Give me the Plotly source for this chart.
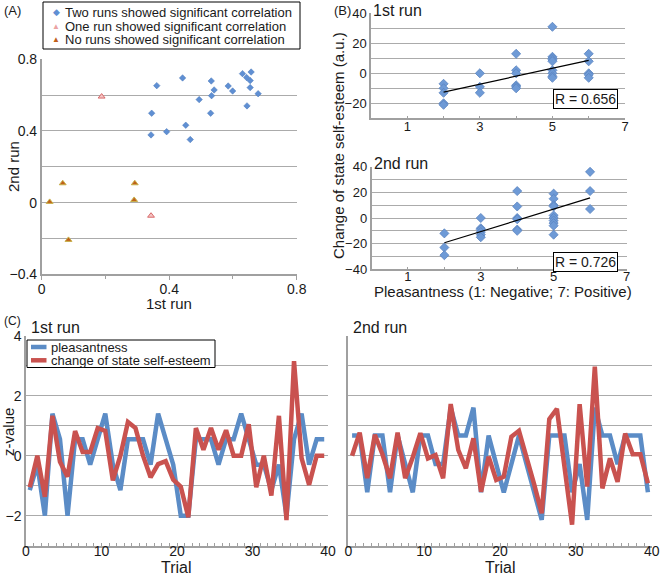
import numpy as np
import plotly.graph_objects as go

# ---------------- Panel A data ----------------
a_two_x = [0.361, 0.345, 0.343, 0.392, 0.442, 0.452, 0.466, 0.494, 0.532, 0.541, 0.533,
           0.530, 0.585, 0.599, 0.630, 0.643, 0.657, 0.654, 0.654, 0.644, 0.679]
a_two_y = [0.653, 0.499, 0.378, 0.396, 0.696, 0.432, 0.352, 0.575, 0.679, 0.629, 0.597,
           0.499, 0.651, 0.623, 0.720, 0.698, 0.729, 0.681, 0.642, 0.540, 0.608]
a_one_x = [0.188, 0.343]
a_one_y = [0.592, -0.073]
a_none_x = [0.025, 0.066, 0.084, 0.292, 0.290]
a_none_y = [0.004, 0.108, -0.208, 0.108, 0.015]
a_legend = ["Two runs showed significant correlation",
            "One run showed significant correlation",
            "No runs showed significant correlation"]

# ---------------- Panel B data ----------------
b1_x = [2, 2, 2, 2, 2, 3, 3, 3, 4, 4, 4, 4, 4, 4,
        5, 5, 5, 5, 5, 5, 5, 5, 5, 6, 6, 6, 6, 6]
b1_y = [-7, -10, -13, -20, -21, 0, -9, -13, 13, 2, 0, -8, -9, -10,
        31, 11, 10, 9, 8, 2, 0, -2, -3, 13, 8, 0, -1, -3]
b2_x = [2, 2, 2, 3, 3, 3, 3, 3, 3, 4, 4, 4, 4, 4, 4,
        5, 5, 5, 5, 5, 5, 5, 5, 5, 5, 6, 6, 6]
b2_y = [-12, -23, -29, 0, -8, -9, -11, -13, -15, 21, 9, 0, -1, -9, -10,
        19, 15, 10, 9, 2, 0, -2, -4, -6, -13, 36, 21, 7]
b1_r = "R = 0.656"
b2_r = "R = 0.726"

# ---------------- Panel C data ----------------
trials = list(range(1, 41))
c1_pleas = [-1.15, -0.3, -2.0, 1.4, 0.55, -2.0, 0.55, 0.55, -0.3, 0.55,
            1.4, -0.3, -1.15, 0.55, 0.55, 0.55, -0.3, 1.4, 0.55, -0.3,
            -2.0, -2.0, 0.55, 0.55, 0.55, -0.3, 0.55, 0.55, 1.4, 0.55,
            -0.3, -0.3, -1.15, -0.3, -2.0, 0.55, 1.4, -0.3, 0.55, 0.55]
c1_esteem = [-1.05, 0.0, -1.37, 1.33, -0.2, -0.7, 0.82, 0.12, 0.12, 0.92,
             0.83, -0.82, 0.0, 1.12, 0.92, 0.0, -0.72, -0.28, -0.18, -0.8,
             -1.03, -2.05, 0.92, 0.2, 0.92, 0.2, 0.85, 0.0, 0.0, 1.05,
             -1.05, 0.0, -1.33, 1.33, -2.15, 3.15, -0.08, -0.97, 0.0, 0.0]
c2_pleas = [0.67, 0.67, -1.22, 0.67, 0.67, -1.22, 0.67, -0.28, -1.22, 0.67,
            0.67, -0.28, -0.28, 1.6, 0.67, 0.67, 1.6, -1.22, 0.67, -0.28,
            -1.22, -0.28, 0.67, -0.28, -1.22, -2.14, 0.67, 0.67, 0.67, -1.22,
            -0.28, -2.14, 1.6, 0.67, 0.67, -0.28, 0.67, 0.67, 0.67, -1.22]
c2_esteem = [0.0, 0.77, -0.75, 0.7, 0.05, -0.75, 0.77, -0.75, -0.05, 0.75,
             -0.09, 0.02, -0.75, 1.72, 0.19, -0.42, 0.58, -1.2, -0.03, -0.81,
             -0.7, 0.63, 0.83, 0.0, -0.95, -1.92, 1.22, 1.56, -0.3, -2.3,
             1.72, -1.03, 2.97, -1.09, -0.09, -0.87, 0.74, 0.05, 0.05, -0.92]
c_legend = ["pleasantness", "change of state self-esteem"]

FONT = "Liberation Sans, Arial, sans-serif"
TXT = "#1a1a1a"
GRID = "#ABABAB"
AXIS = "#A0A0A0"
BLUE_MK = "#5F8FD3"
BLUE_LN = "#5B8CC6"
RED_LN = "#C9524F"
PINK_F, PINK_L = "#F5C4C4", "#D86A6A"
BROWN_F, BROWN_L = "#C0601A", "#C8B04A"

W, H = 660, 575
def px(x):
    return x / W
def py(y):
    return 1 - y / H

fig = go.Figure()

# Panel A
fig.add_trace(go.Scatter(x=a_two_x, y=a_two_y, mode="markers", xaxis="x", yaxis="y",
                         name=a_legend[0], showlegend=False,
                         marker=dict(symbol="diamond", size=5, color=BLUE_MK,
                                     line=dict(width=0.5, color="#4A78B8"))))
fig.add_trace(go.Scatter(x=a_one_x, y=a_one_y, mode="markers", xaxis="x", yaxis="y",
                         name=a_legend[1], showlegend=False,
                         marker=dict(symbol="triangle-up", size=6, color=PINK_F,
                                     line=dict(width=1, color=PINK_L))))
fig.add_trace(go.Scatter(x=a_none_x, y=a_none_y, mode="markers", xaxis="x", yaxis="y",
                         name=a_legend[2], showlegend=False,
                         marker=dict(symbol="triangle-up", size=6, color=BROWN_F,
                                     line=dict(width=1, color=BROWN_L))))

# Panel B
def add_b(xs, ys, xa, ya):
    fig.add_trace(go.Scatter(x=xs, y=ys, mode="markers", xaxis=xa, yaxis=ya, showlegend=False,
                             marker=dict(symbol="diamond", size=7, color="#6E9AD6",
                                         line=dict(width=0.8, color="#5A84C0"))))
    k, b = np.polyfit(xs, ys, 1)
    lx = [min(xs), max(xs)]
    fig.add_trace(go.Scatter(x=lx, y=[k * v + b for v in lx], mode="lines", xaxis=xa, yaxis=ya,
                             showlegend=False, line=dict(color="black", width=1.2)))

add_b(b1_x, b1_y, "x2", "y2")
add_b(b2_x, b2_y, "x3", "y3")

# Panel C
cx = [t - 0.5 for t in trials]
for xa, ya, pl, es in (("x4", "y4", c1_pleas, c1_esteem), ("x5", "y5", c2_pleas, c2_esteem)):
    fig.add_trace(go.Scatter(x=cx, y=pl, mode="lines", xaxis=xa, yaxis=ya, showlegend=False,
                             name=c_legend[0], line=dict(color=BLUE_LN, width=4.5)))
    fig.add_trace(go.Scatter(x=cx, y=es, mode="lines", xaxis=xa, yaxis=ya, showlegend=False,
                             name=c_legend[1], line=dict(color=RED_LN, width=4.5)))


def xax(domain, rng, dtick, tick0, minor, anchor, size, ticks="inside", ticklen=3, standoff=0):
    return dict(domain=domain, range=rng, dtick=dtick, tick0=tick0, anchor=anchor,
                automargin=False, showgrid=False, zeroline=False, showline=True,
                linecolor=AXIS, linewidth=1.5,
                ticks=ticks, ticklen=ticklen, tickcolor=AXIS, tickwidth=1,
                ticklabelstandoff=standoff, ticklabeloverflow="allow",
                minor=dict(dtick=minor, tick0=tick0, ticks=ticks, ticklen=3, tickcolor=AXIS),
                tickfont=dict(size=size, color=TXT), fixedrange=True)


def yax(domain, rng, dtick, minor, anchor, size, labels=True):
    return dict(domain=domain, range=rng, dtick=dtick, tick0=0, anchor=anchor,
                automargin=False, showgrid=True, gridcolor=GRID, gridwidth=1.4, zeroline=False,
                showline=True, linecolor=AXIS, linewidth=1.5, ticks="",
                ticklabeloverflow="allow",
                minor=dict(dtick=minor, tick0=0, showgrid=True, gridcolor=GRID, gridwidth=1.4),
                showticklabels=labels, tickfont=dict(size=size, color=TXT), fixedrange=True)


A_xd = [px(41.7), px(296.7)]
A_yd = [py(274.3), py(59.3)]
B1_xd = [px(371), px(625)]
B1_yd = [py(118.3), py(13.3)]
B2_xd = [px(371.5), px(626.5)]
B2_yd = [py(269.3), py(166.7)]
C1_xd = [px(26), px(328)]
C2_xd = [px(348.3), px(651.7)]
C_yd = [py(545.7), py(335.7)]

annotations = []
def ann(text, x, y, size, xanchor="left", yanchor="top", angle=0, color=TXT, **kw):
    annotations.append(dict(text=text, x=px(x), y=py(y), xref="paper", yref="paper",
                            xanchor=xanchor, yanchor=yanchor, showarrow=False, textangle=angle,
                            font=dict(size=size, color=color, family=FONT), **kw))

shapes = []
def rect(x0, y0, x1, y1):
    shapes.append(dict(type="rect", xref="paper", yref="paper", x0=px(x0), x1=px(x1),
                       y0=py(y1), y1=py(y0), fillcolor="white",
                       line=dict(color="black", width=1), layer="above"))

# Panel A legend (compact, like the original)
rect(43, 2, 300, 49)
ann("\u25c6", 56, 12.5, 9, xanchor="center", yanchor="middle", color=BLUE_MK)
ann("\u25b2", 56, 26, 8, xanchor="center", yanchor="middle", color="#EBA3A3")
ann("\u25b2", 56, 39.5, 8, xanchor="center", yanchor="middle", color=BROWN_F)
for i, t in enumerate(a_legend):
    ann(t, 63, 12.5 + 13.5 * i, 13, yanchor="middle")

# Panel C legend
rect(27, 340, 215, 367.5)
for i, (t, c) in enumerate(zip(c_legend, (BLUE_LN, RED_LN))):
    yy = 347 + 13.3 * i
    shapes.append(dict(type="line", xref="paper", yref="paper", x0=px(31), x1=px(46.5),
                       y0=py(yy), y1=py(yy), line=dict(color=c, width=4.5), layer="above"))
    ann(t, 49, yy, 13, yanchor="middle")

ann("(A)", 2, 1, 13)
ann("(B)", 332, 1, 13)
ann("(C)", 2, 312, 12)
ann("1st run", 371, 0, 16)
ann("2nd run", 372, 153, 16)
ann("1st run", 29, 317, 16)
ann("2nd run", 351, 317, 16)
ann("2nd run", 13, 166, 15, xanchor="center", yanchor="middle", angle=-90)
ann("1st run", 169, 303, 15, xanchor="center", yanchor="middle")
ann("Change of state self-esteem (a.u.)", 339, 146, 15, xanchor="center", yanchor="middle", angle=-90)
ann("Pleasantness (1: Negative; 7: Positive)", 503, 291, 15, xanchor="center", yanchor="middle")
ann("z-value", 9, 432, 15, xanchor="center", yanchor="middle", angle=-90)
ann("Trial", 176, 567, 16, xanchor="center", yanchor="middle")
ann("Trial", 500, 567, 16, xanchor="center", yanchor="middle")
ann(b1_r, 585, 99, 14, xanchor="center", yanchor="middle",
    bordercolor="black", borderwidth=1, borderpad=1, bgcolor="white")
ann(b2_r, 585, 262, 14, xanchor="center", yanchor="middle",
    bordercolor="black", borderwidth=1, borderpad=1, bgcolor="white")

fig.update_layout(
    width=W, height=H, margin=dict(l=0, r=0, t=0, b=0, autoexpand=False),
    paper_bgcolor="white", plot_bgcolor="white", showlegend=False,
    font=dict(family=FONT, color=TXT),
    xaxis=xax(A_xd, [0, 0.8], 0.4, 0, 0.2, "y", 14, ticks="outside", ticklen=4, standoff=-3),
    yaxis=yax(A_yd, [-0.4, 0.8], 0.4, 0.2, "x", 14),
    xaxis2=xax(B1_xd, [0, 7], 2, 1, 1, "y2", 13, standoff=-5),
    yaxis2=yax(B1_yd, [-30, 40], 20, 10, "x2", 13),
    xaxis3=xax(B2_xd, [0, 7], 2, 1, 1, "y3", 13, standoff=-6),
    yaxis3=yax(B2_yd, [-40, 40], 20, 10, "x3", 13),
    xaxis4=xax(C1_xd, [0, 40], 10, 0, 1, "y4", 14, standoff=-8),
    yaxis4=yax(C_yd, [-3, 4], 2, 1, "x4", 14),
    xaxis5=xax(C2_xd, [0, 40], 10, 0, 1, "y5", 14, standoff=-8),
    yaxis5=yax(C_yd, [-3, 4], 2, 1, "x5", 14, labels=False),
    annotations=annotations,
    shapes=shapes,
)

fig.write_html("out.html", config={"displayModeBar": False},
               post_script="document.body.style.margin='0';document.body.style.overflow='hidden';")
